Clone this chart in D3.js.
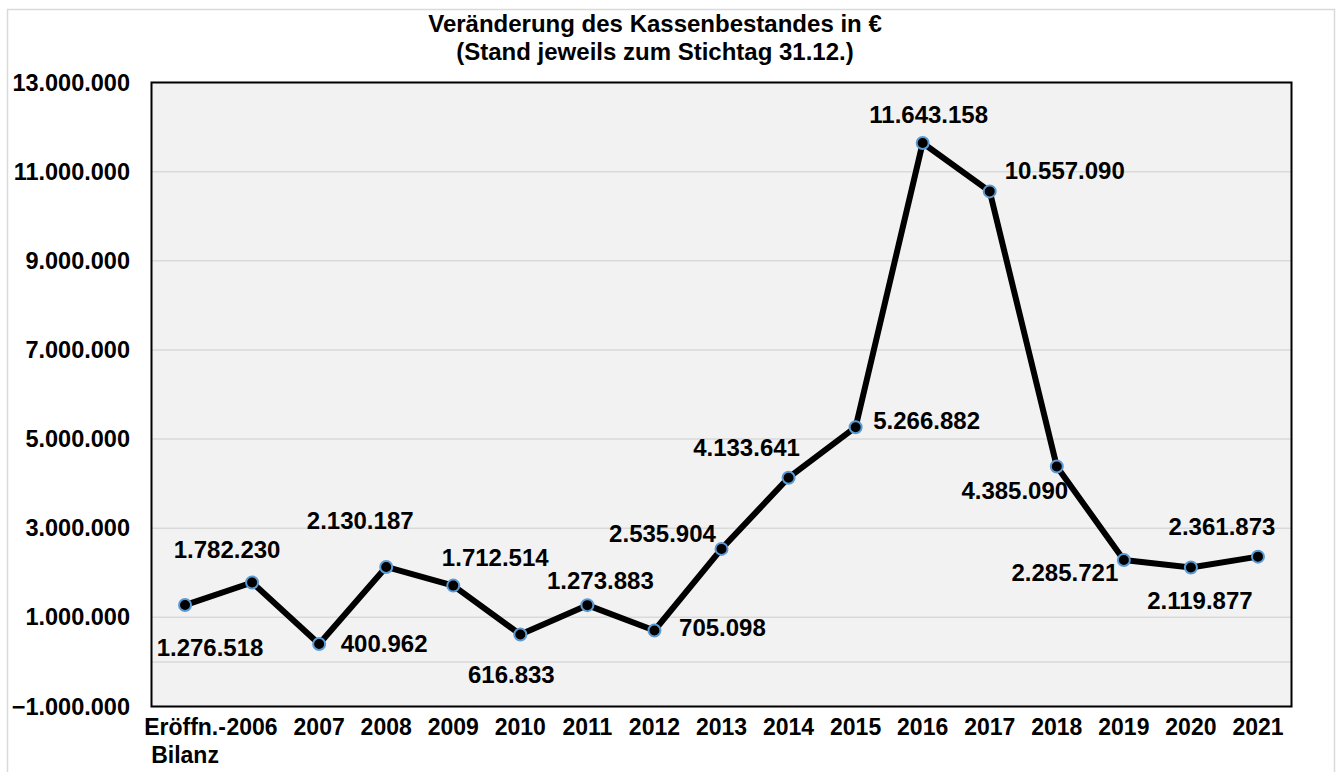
<!DOCTYPE html>
<html>
<head>
<meta charset="utf-8">
<script src="https://cdn.jsdelivr.net/npm/d3@7"></script>
<style>
  body { margin: 0; background: #fff; }
  svg { display: block; font-family: "Liberation Sans", Arial, sans-serif; font-weight: bold; }
</style>
</head>
<body>
<div id="chart"></div>
<script>
// categories and values (Kassenbestand zum 31.12.)
var categories = ["Eröffn.-Bilanz", "2006", "2007", "2008", "2009", "2010", "2011", "2012",
                  "2013", "2014", "2015", "2016", "2017", "2018", "2019", "2020", "2021"];
var values = [1276518, 1782230, 400962, 2130187, 1712514, 616833, 1273883, 705098,
              2535904, 4133641, 5266882, 11643158, 10557090, 4385090, 2285721, 2119877, 2361873];
var yTicks = [-1000000, 1000000, 3000000, 5000000, 7000000, 9000000, 11000000, 13000000];
var titleLines = ["Veränderung des Kassenbestandes in €", "(Stand jeweils zum Stichtag 31.12.)"];

// label offsets from each point (dx to text centre, dy to baseline)
var labelOffsets = [[25, 51], [-25, -24], [65, 8], [-26, -38], [42, -20], [-9, 49], [13, -16],
                    [68, 5], [-59, -7], [-42, -22], [71, 2], [6, -20], [75, -12], [-42, 33],
                    [-59, 21], [9, 42], [-36, -22]];

var W = 1337, H = 772;
var margin = {top: 82.5, right: 45.5, bottom: 65.5, left: 151.5};
var width = W - margin.left - margin.right,
    height = H - margin.top - margin.bottom;

var de = d3.formatLocale({decimal: ",", thousands: ".", grouping: [3], currency: ["", " €"]});
var fmt = de.format(",d");

var svg = d3.select("#chart").append("svg")
    .attr("width", W)
    .attr("height", H);

// outer chart frame
svg.append("rect")
    .attr("x", 7.5).attr("y", 9.5)
    .attr("width", 1327).attr("height", 800)
    .attr("fill", "#fff")
    .attr("stroke", "#d9d9d9")
    .attr("stroke-width", 1.5);

svg.selectAll(".title")
    .data(titleLines)
    .enter().append("text")
    .attr("x", 655)
    .attr("y", function(d, i) { return 32 + i * 28; })
    .attr("text-anchor", "middle")
    .attr("font-size", 24)
    .attr("fill", "#000")
    .text(function(d) { return d; });

var g = svg.append("g").attr("transform", "translate(" + margin.left + "," + margin.top + ")");

var x = d3.scaleBand().domain(categories).range([0, width]);
var y = d3.scaleLinear().domain([-1000000, 13000000]).range([height, 0]);

g.append("rect")
    .attr("width", width).attr("height", height)
    .attr("fill", "#f2f2f2");

// grid
g.selectAll(".grid")
    .data(yTicks.concat([0]))
    .enter().append("line")
    .attr("x1", 0).attr("x2", width + 1)
    .attr("y1", function(d) { return y(d); })
    .attr("y2", function(d) { return y(d); })
    .attr("stroke", "#d9d9d9")
    .attr("stroke-width", 1.5);

g.append("rect")
    .attr("width", width).attr("height", height)
    .attr("fill", "none")
    .attr("stroke", "#000")
    .attr("stroke-width", 2);

// y axis
var yAxis = g.append("g")
    .call(d3.axisLeft(y).tickValues(yTicks).tickFormat(fmt).tickSize(0).tickPadding(21.5));
yAxis.select(".domain").remove();
yAxis.selectAll("text")
    .attr("font-size", 23.5)
    .attr("font-family", "Liberation Sans, Arial, sans-serif")
    .attr("font-weight", "bold")
    .attr("fill", "#000");

// x axis labels (wrapped like the original)
var xAxis = g.append("g").attr("transform", "translate(0," + height + ")");
xAxis.selectAll("text")
    .data(categories)
    .enter().append("text")
    .attr("x", function(d) { return x(d) + x.bandwidth() / 2; })
    .attr("y", 28.5)
    .attr("text-anchor", "middle")
    .attr("font-size", 23)
    .attr("fill", "#000")
    .each(function(d) {
        var parts = d.indexOf("-") > 0 ? [d.slice(0, d.indexOf("-") + 1), d.slice(d.indexOf("-") + 1)] : [d];
        var t = d3.select(this);
        parts.forEach(function(p, i) {
            t.append("tspan")
                .attr("x", x(d) + x.bandwidth() / 2)
                .attr("dy", i === 0 ? 0 : 27.7)
                .text(p);
        });
    });

var line = d3.line()
    .x(function(d, i) { return x(categories[i]) + x.bandwidth() / 2; })
    .y(function(d) { return y(d); });

g.append("path")
    .datum(values)
    .attr("fill", "none")
    .attr("stroke", "#000")
    .attr("stroke-width", 6)
    .attr("stroke-linejoin", "round")
    .attr("d", line);

g.selectAll(".dot")
    .data(values)
    .enter().append("circle")
    .attr("cx", function(d, i) { return x(categories[i]) + x.bandwidth() / 2; })
    .attr("cy", function(d) { return y(d); })
    .attr("r", 6)
    .attr("fill", "#000")
    .attr("stroke", "#5b9bd5")
    .attr("stroke-width", 2);

g.selectAll(".lbl")
    .data(values)
    .enter().append("text")
    .attr("x", function(d, i) { return x(categories[i]) + x.bandwidth() / 2 + labelOffsets[i][0]; })
    .attr("y", function(d, i) { return y(d) + labelOffsets[i][1]; })
    .attr("text-anchor", "middle")
    .attr("font-size", 24)
    .attr("fill", "#000")
    .text(function(d) { return fmt(d); });
</script>
</body>
</html>
